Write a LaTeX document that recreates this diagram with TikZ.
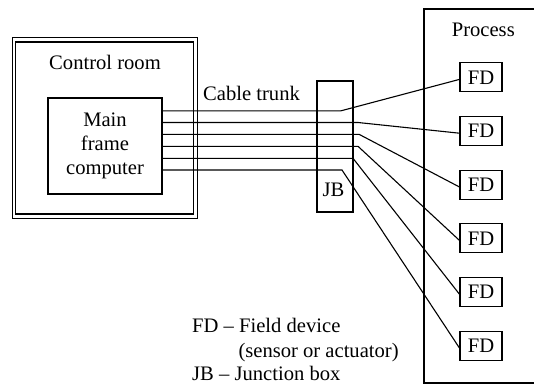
\documentclass[tikz,border=0pt]{standalone}
\usepackage{fontspec}
\setmainfont{Liberation Serif}
\begin{document}
\begin{tikzpicture}[x=1pt,y=-1pt,
  txt/.style={font=\fontsize{20.6}{24}\selectfont, inner sep=0pt},
  fdbox/.style={draw, line width=1.1pt, minimum width=42pt, minimum height=29pt, inner sep=0pt, font=\fontsize{20.6}{24}\selectfont},
  wire/.style={line width=1.1pt},
  box/.style={draw, line width=1.1pt, inner sep=0pt}]
\useasboundingbox (0,0) rectangle (534,385);
% control room
\draw[line width=1pt] (12,38) rectangle (197,218);
\draw[line width=1.8pt] (15.5,42) rectangle (193.5,214);
\node[txt, anchor=base] (ctl) at (105,69.3) {Control room};
\node[box, minimum width=114pt, minimum height=96pt, align=center, font=\fontsize{20.6}{24}\selectfont] (main) at (105,146) {Main\\frame\\computer};
% cable trunk
\node[txt, anchor=base] (trunk) at (251.5,100.7) {Cable trunk};
% junction box
\node[box, minimum width=36pt, minimum height=131pt] (jb) at (335,146.5) {};
\node[txt, anchor=base] (jbl) at (333.4,196.7) {JB};
% process
\draw[line width=1.1pt] (534,9) -- (424,9) -- (424,383) -- (534,383);
\node[txt, anchor=base] (proc) at (483.3,36.7) {Process};
% field devices
\foreach \i/\y in {1/77.4,2/131.2,3/185,4/238.4,5/292.2,6/346}{
  \node[fdbox] (fd\i) at (481,\y) {FD};
}
% bends
\coordinate (b1) at (341,110.8);
\coordinate (b2) at (358,122.5);
\coordinate (b3) at (359,134.3);
\coordinate (b4) at (358,146.3);
\coordinate (b5) at (353,158.3);
\coordinate (b6) at (342,170);
\foreach \i in {1,...,6}{
  \draw[wire] (main.east |- b\i) -- (b\i) -- ([yshift=-2pt]fd\i.west);
}
% legend
\node[txt, anchor=base west] (l1) at (192,332.7) {FD -- Field device};
\node[txt, anchor=base west] (l2) at (238.3,357.3) {(sensor or actuator)};
\node[txt, anchor=base west] (l3) at (192,380) {JB -- Junction box};
\end{tikzpicture}
\end{document}
